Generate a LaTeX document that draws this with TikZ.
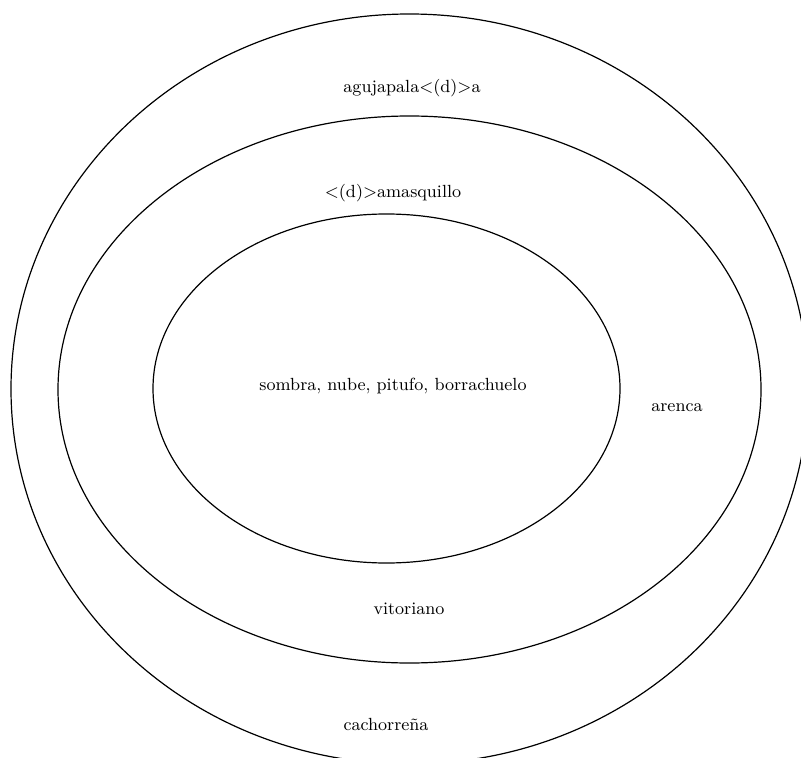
\documentclass[tikz,border=0pt]{standalone}
\usepackage{tikz}
\usetikzlibrary{shapes.geometric, positioning}

\begin{document}
\begin{tikzpicture}[x=0.5pt, y=-0.5pt, every node/.style={font=\fontsize{8.8}{10}\selectfont}]
					\tikzstyle{ring} = [draw, ellipse, line width=0.6pt, inner sep=0pt]
					\useasboundingbox (0,0) rectangle (801,758);
					\clip (0,0) rectangle (801,758);
					\node[ring, minimum width=398.5pt, minimum height=375pt] (outer) at (409.5,389) {};
					\node[ring, minimum width=351.5pt, minimum height=273.5pt] (middle) at (409.5,389.5) {};
					\node[ring, minimum width=233.5pt, minimum height=174.5pt] (inner) at (386.5,388.5) {};
					\node (agujapala) at (412,88) {agujapala<(d)>a};
					\node (amasquillo) at (393,193) {<(d)>amasquillo};
					\node (sombra) at (393,386) {sombra, nube, pitufo, borrachuelo};
					\node (arenca) at (677,408) {arenca};
					\node (vitoriano) at (409,609) {vitoriano};
					\node (cachorrena) at (386,724) {cachorreña};
				\end{tikzpicture}
\end{document}
